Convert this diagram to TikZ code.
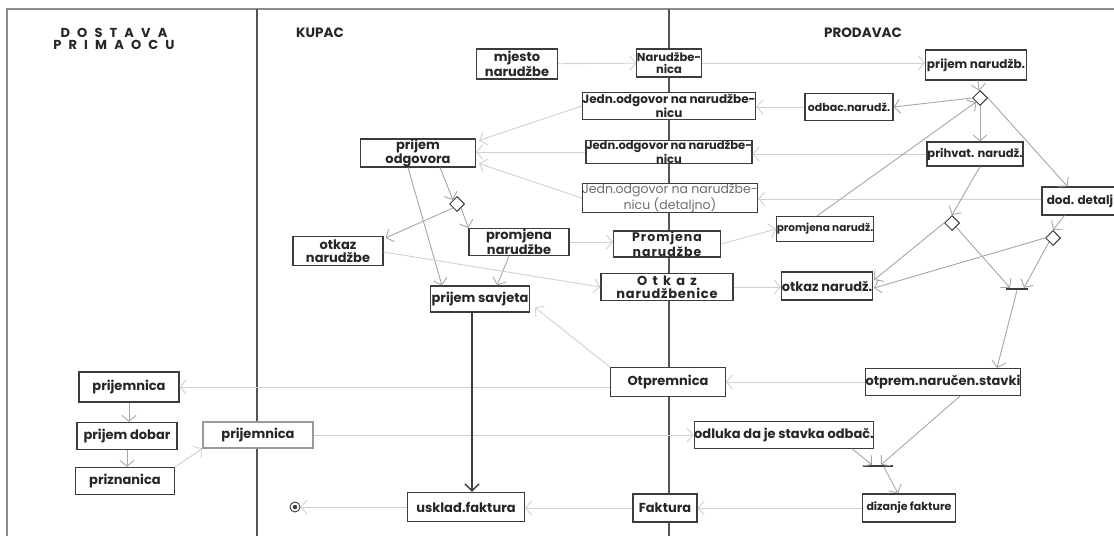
\documentclass[tikz,border=0pt]{standalone}
\usepackage{fontspec}
\setmainfont{Poppins}
\usetikzlibrary{arrows.meta,shapes.geometric,calc}
\definecolor{boxc}{HTML}{3C3C3C}
\definecolor{txtc}{HTML}{262626}
\definecolor{conn}{HTML}{A6A6A6}
\definecolor{connl}{HTML}{D0D0D0}
\definecolor{lanec}{HTML}{555555}
\definecolor{framec}{HTML}{8C8C8C}
\definecolor{softc}{HTML}{6E6E6E}
\definecolor{softbox}{HTML}{9A9A9A}
\newcommand{\fsz}[1]{\fontsize{#1}{13}\selectfont}
\tikzset{
  box/.style={draw=boxc, line width=1.1pt, fill=white, text=txtc, inner sep=0pt, align=center, font=\bfseries\fsz{13}},
  dia/.style={diamond, draw=boxc, line width=1pt, fill=white, minimum size=15pt, inner sep=0pt},
  syncbar/.style={fill=boxc, minimum height=2pt, inner sep=0pt},
  head/.style={text=txtc, align=center, font=\bfseries\fontsize{13.5}{13}\selectfont},
  flow/.style={draw=conn, line width=0.9pt, ->},
  flowl/.style={draw=connl, line width=0.9pt, ->},
  lane/.style={draw=lanec, line width=1.2pt},
}
\begin{document}
\begin{tikzpicture}[x=1pt,y=-1pt,>={Straight Barb[length=6pt,width=14pt]}]
\useasboundingbox (0,0) rectangle (1114,536);
\clip (0,0) rectangle (1114,536);
% frame and lanes
\draw[draw=framec, line width=1.2pt] (7,536) -- (7,9) -- (1114,9);
\draw[lane] (257,9) -- (257,536);
\draw[lane] (669,9) -- (669,536);
% headings
\node[head, font=\bfseries\addfontfeature{LetterSpace=55}\fontsize{13}{12}\selectfont] (hdost) at (114,39) {DOSTAVA\\PRIMAOCU};
\node[head] (hkupac) at (320,33) {KUPAC};
\node[head] (hprod) at (863,33) {PRODAVAC};
% center lane
\node[box, minimum width=81pt, minimum height=30pt] (mjesto) at (517,64) {mjesto\\narudžbe};
\node[box, font=\bfseries\fontsize{11.5}{12}\selectfont, minimum width=62pt, minimum height=28pt] (nar) at (669,63) {Narudžbe-\\nica};
\node[box, font=\bfseries\fontsize{12}{12}\selectfont, minimum width=167pt, minimum height=27pt] (J1) at (669,106) {Jedn.odgovor na narudžbe-\\nicu};
\node[box, font=\bfseries\fontsize{11.5}{11}\selectfont, minimum width=161pt, minimum height=22pt] (J2) at (669,152) {Jedn.odgovor na narudžbe-\\nicu};
\node[box, minimum width=175pt, minimum height=29pt, text=softc, font=\fontsize{12.5}{12}\selectfont] (J3) at (670,198) {Jedn.odgovor na narudžbe-\\nicu (detaljno)};
\node[box, font=\bfseries\addfontfeature{LetterSpace=8}\fontsize{12.5}{12.5}\selectfont, minimum width=107pt, minimum height=26pt] (promC) at (667,244) {Promjena\\narudžbe};
\node[box, minimum width=132pt, minimum height=27pt] (otkazC) at (667,287) {{\addfontfeature{LetterSpace=40}Otkaz}\\{\addfontfeature{LetterSpace=6}narudžbenice}};
\node[box, minimum width=115pt, minimum height=29pt] (otpremnica) at (668,382) {Otpremnica};
\node[box, minimum width=64pt, minimum height=28pt] (faktura) at (665,508) {Faktura};
% kupac lane
\node[box, minimum width=115pt, minimum height=26pt] (podg) at (418,153) {prijem\\odgovora};
\node[dia] (dL) at (457,204) {};
\node[box, minimum width=90pt, minimum height=29pt] (otkazL) at (338,251) {otkaz\\narudžbe};
\node[box, minimum width=100pt, minimum height=27pt] (promL) at (519,242) {promjena\\narudžbe};
\node[box, minimum width=99pt, minimum height=26pt] (savjeta) at (480,299) {prijem savjeta};
\node[box, minimum width=117pt, minimum height=29pt] (usklad) at (466,507) {usklađ.faktura};
\node[circle, draw=boxc, line width=0.9pt, minimum size=10pt, inner sep=0pt] (endn) at (295,507) {};
\fill[boxc] (endn.center) circle (2.2pt);
% prodavac lane
\node[box, font=\bfseries\fsz{12}, minimum width=101pt, minimum height=30pt] (prijemN) at (976,65) {prijem narudžb.};
\node[dia] (dTR) at (980,98) {};
\node[box, font=\bfseries\fsz{11}, minimum width=88pt, minimum height=27pt] (odbac) at (849,107) {odbac.narudž.};
\node[box, font=\bfseries\fsz{11.5}, minimum width=96pt, minimum height=24pt] (prihvat) at (975,154) {prihvat. narudž.};
\node[box, font=\bfseries\fsz{12}, minimum width=76pt, minimum height=28pt] (dod) at (1080,201) {dod. detalj};
\node[dia] (dM1) at (952,223) {};
\node[dia] (dM2) at (1053,238) {};
\node[syncbar, minimum width=22pt] (s1) at (1017,289) {};
\node[box, font=\bfseries\fsz{10.5}, minimum width=96pt, minimum height=25pt] (promR) at (825,229) {promjena narudž.};
\node[box, minimum width=91pt, minimum height=28pt] (otkazR) at (827,286) {otkaz narudž.};
\node[box, minimum width=153pt, minimum height=27pt] (otprem) at (943,382) {otprem.naručen.stavki};
\node[box, minimum width=175pt, minimum height=27pt] (odluka) at (784,435) {odluka da je stavka odbač.};
\node[syncbar, minimum width=30pt] (s2) at (878,466) {};
\node[box, font=\bfseries\fsz{11}, minimum width=93pt, minimum height=28pt] (dizanje) at (909,508) {dizanje fakture};
% dostava lane
\node[box, minimum width=100pt, minimum height=30pt] (prij1) at (129,387) {prijemnica};
\node[box, minimum width=100pt, minimum height=27pt] (pdobar) at (127,436) {prijem dobar};
\node[box, minimum width=99pt, minimum height=27pt] (prizn) at (125,481) {priznanica};
\node[box, draw=softbox, minimum width=110pt, minimum height=26pt] (prij2) at (258,435) {prijemnica};
% connectors
\draw[flowl] (mjesto) -- (nar);
\draw[flowl] (nar.east) -- (nar.east -| prijemN.west);
\draw[flow] (prijemN) -- (dTR);
\draw[flow] (dTR.west) -- (odbac.east);
\draw[flowl] (odbac.west) -- (odbac.west -| J1.east);
\draw[flow] (dTR.south) -- (dTR.south |- prihvat.north);
\draw[flowl] (prihvat.west) -- (prihvat.west -| J2.east);
\draw[flow] (dTR.east) -- ($(dod.north west)+(26,0)$);
\draw[flowl] ($(dod.west)+(0,-2)$) -- ($(dod.west -| J3.east)+(0,-2)$);
\draw[flow] ($(promR.north)+(-8,0)$) -- (dTR.south west);
\draw[flow] ($(prihvat.south)+(5,0)$) -- (dM1.north);
\draw[flow] ($(dod.south west)+(23,0)$) -- (dM2.north);
\draw[flow] (dM1.west) -- ($(otkazR.east)+(1,-6)$);
\draw[flow] (dM2.west) -- ($(otkazR.east)+(1,2)$);
\draw[flow] (dM1.south east) -- ($(s1.north)+(-7,0)$);
\draw[flow] (dM2.south west) -- ($(s1.north)+(7,0)$);
\draw[flow] (s1.south) -- ($(otprem.north)+(54,0)$);
\draw[flowl] (otprem.west) -- (otpremnica.east);
\draw[flowl] (otpremnica.west |- prij1) -- (prij1.east);
\draw[flowl] (otpremnica.north west) -- ($(savjeta.south east)+(5,-5)$);
\draw[flow] (prij1.south) -- (prij1.south |- pdobar.north);
\draw[flow] (pdobar.south) -- (pdobar.south |- prizn.north);
\draw[flowl] (prizn.north east) -- (prij2.south west);
\draw[flowl] (prij2.east) -- (prij2.east -| odluka.west);
\draw[flow] ($(odluka.south east)+(-22,0)$) -- ($(s2.north)+(-6,0)$);
\draw[flow] ($(otprem.south)+(17,0)$) -- ($(s2.north)+(3,0)$);
\draw[flow] ($(s2.south)+(6,0)$) -- ($(dizanje.north)+(-11,0)$);
\draw[flowl] (dizanje.west) -- (dizanje.west -| faktura.east);
\draw[flowl] (faktura.west) -- (faktura.west -| usklad.east);
\draw[flowl] (usklad.west) -- (endn.east);
\draw[draw=boxc, line width=1.5pt, -{Straight Barb[length=7pt,width=14pt]}] ($(savjeta.south)+(-8,0)$) -- ($(usklad.north)+(6,0)$);
\draw[flowl] (J1.west) -- ($(podg.north east)+(3,2)$);
\draw[flowl] (J2.west) -- (J2.west -| podg.east);
\draw[flowl] (J3.west) -- ($(podg.south east)+(3,-4)$);
\draw[flow] ($(podg.south)+(22,0)$) -- (dL.north west);
\draw[flow] ($(podg.south)+(-10,0)$) -- ($(savjeta.north west)+(12,0)$);
\draw[flow] (dL.south west) -- ($(otkazL.north east)+(2,2)$);
\draw[flow] (dL.south east) -- (promL.north west);
\draw[flowl] (promL.east) -- (promL.east -| promC.west);
\draw[flow] ($(promL.south)+(-10,0)$) -- ($(savjeta.north)+(17,0)$);
\draw[flowl] ($(otkazL.east)+(0,1)$) -- (otkazC.west);
\draw[flowl] (promC.east) -- (promR.west);
\draw[flowl] (otkazC.east) -- (otkazC.east -| otkazR.west);
\end{tikzpicture}
\end{document}
